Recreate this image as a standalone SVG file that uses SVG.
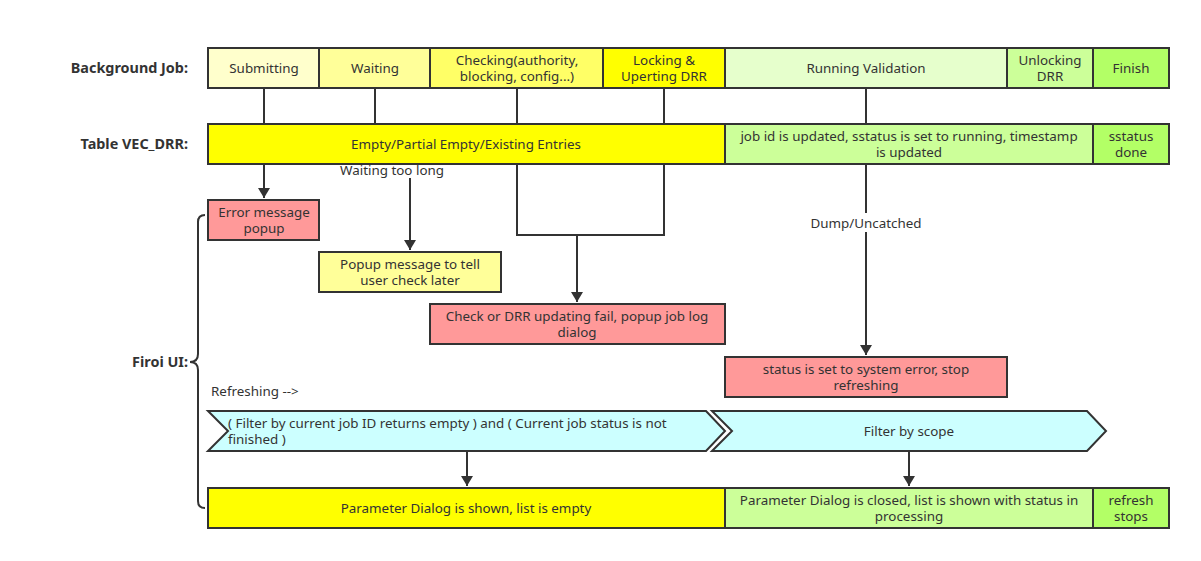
<svg xmlns="http://www.w3.org/2000/svg" width="1201" height="561" viewBox="0 0 1201 561">
<defs>
<marker id="arr" viewBox="0 0 10 12" refX="10" refY="6" markerWidth="10" markerHeight="12" markerUnits="userSpaceOnUse" orient="auto">
<path d="M0,0 L10,6 L0,12 Z" fill="#333"/>
</marker>
<style>
text{font-family:"Noto Sans","Open Sans","Liberation Sans",sans-serif;font-size:13.4px;fill:#333}
.c{text-anchor:middle}
.lbl{font-weight:bold;text-anchor:end;font-size:14.4px}
.box{stroke:#333;stroke-width:2}
.ln{stroke:#333;stroke-width:2;fill:none}
</style>
</defs>
<rect width="1201" height="561" fill="#fff"/>
<g id="labels">
<text class="lbl" x="188" y="73">Background Job:</text>
<text class="lbl" x="188" y="149">Table VEC_DRR:</text>
<text class="lbl" x="188" y="367">Firoi UI:</text>
<text x="211" y="396">Refreshing --&gt;</text>
</g>
<g id="connectors">
<line class="ln" x1="264" y1="88" x2="264" y2="124"/>
<line class="ln" x1="375" y1="88" x2="375" y2="124"/>
<line class="ln" x1="517" y1="88" x2="517" y2="124"/>
<line class="ln" x1="664" y1="88" x2="664" y2="124"/>
<line class="ln" x1="866" y1="88" x2="866" y2="124"/>
<line class="ln" x1="264" y1="164" x2="264" y2="198" marker-end="url(#arr)"/>
<line class="ln" x1="410" y1="178" x2="410" y2="250" marker-end="url(#arr)"/>
<path class="ln" d="M517,164 V235 H664 V164"/>
<line class="ln" x1="577" y1="235" x2="577" y2="302" marker-end="url(#arr)"/>
<line class="ln" x1="866" y1="164" x2="866" y2="355" marker-end="url(#arr)"/>
<line class="ln" x1="467" y1="451" x2="467" y2="486" marker-end="url(#arr)"/>
<line class="ln" x1="909" y1="451" x2="909" y2="486" marker-end="url(#arr)"/>
<path class="ln" d="M205,215 Q198,215 198,222 L198,354 Q198,362 190,362 Q198,362 198,370 L198,501 Q198,508 205,508"/>
<rect x="806" y="213" width="120" height="19" fill="#fff"/>
<text class="c" x="866" y="228">Dump/Uncatched</text>
<text class="c" x="392" y="175">Waiting too long</text>
</g>
<g id="bg-job">
<rect class="box" x="208" y="48" width="111" height="40" fill="#ffffcc"/>
<text class="c" x="264" y="73">Submitting</text>
<rect class="box" x="319" y="48" width="111" height="40" fill="#ffff99"/>
<text class="c" x="375" y="73">Waiting</text>
<rect class="box" x="430" y="48" width="173" height="40" fill="#ffff66"/>
<text class="c" x="517" y="65">Checking(authority,</text>
<text class="c" x="517" y="81">blocking, config...)</text>
<rect class="box" x="603" y="48" width="122" height="40" fill="#ffff00"/>
<text class="c" x="664" y="65">Locking &amp;</text>
<text class="c" x="664" y="81">Uperting DRR</text>
<rect class="box" x="725" y="48" width="282" height="40" fill="#e6ffcc"/>
<text class="c" x="866" y="73">Running Validation</text>
<rect class="box" x="1007" y="48" width="86" height="40" fill="#ccff99"/>
<text class="c" x="1050" y="65">Unlocking</text>
<text class="c" x="1050" y="81">DRR</text>
<rect class="box" x="1093" y="48" width="76" height="40" fill="#b3ff66"/>
<text class="c" x="1131" y="73">Finish</text>
</g>
<g id="table-vec">
<rect class="box" x="208" y="124" width="517" height="40" fill="#ffff00"/>
<text class="c" x="466" y="149">Empty/Partial Empty/Existing Entries</text>
<rect class="box" x="725" y="124" width="368" height="40" fill="#ccff99"/>
<text class="c" x="909" y="141">job id is updated, sstatus is set to running, timestamp</text>
<text class="c" x="909" y="157">is updated</text>
<rect class="box" x="1093" y="124" width="76" height="40" fill="#b3ff66"/>
<text class="c" x="1131" y="141">sstatus</text>
<text class="c" x="1131" y="157">done</text>
</g>
<g id="error-popup">
<rect class="box" x="208" y="200" width="111" height="40" fill="#ff9999"/>
<text class="c" x="264" y="217">Error message</text>
<text class="c" x="264" y="233">popup</text>
</g>
<g id="popup-later">
<rect class="box" x="319" y="252" width="182" height="40" fill="#ffff99"/>
<text class="c" x="410" y="269">Popup message to tell</text>
<text class="c" x="410" y="285">user check later</text>
</g>
<g id="check-fail">
<rect class="box" x="430" y="304" width="295" height="40" fill="#ff9999"/>
<text class="c" x="577" y="321">Check or DRR updating fail, popup job log</text>
<text class="c" x="577" y="337">dialog</text>
</g>
<g id="system-error">
<rect class="box" x="725" y="357" width="282" height="40" fill="#ff9999"/>
<text class="c" x="866" y="374">status is set to system error, stop</text>
<text class="c" x="866" y="390">refreshing</text>
</g>
<g id="filter-job">
<path class="box" d="M208,411 H706 L725,431 L706,451 H208 L228,431 Z" fill="#ccffff"/>
<text x="228" y="428">( Filter by current job ID returns empty ) and ( Current job status is not</text>
<text x="228" y="444">finished )</text>
</g>
<g id="filter-scope">
<path class="box" d="M712,411 H1087 L1106,431 L1087,451 H712 L732,431 Z" fill="#ccffff"/>
<text class="c" x="909" y="436">Filter by scope</text>
</g>
<g id="dialog-row">
<rect class="box" x="208" y="488" width="517" height="40" fill="#ffff00"/>
<text class="c" x="466" y="513">Parameter Dialog is shown, list is empty</text>
<rect class="box" x="725" y="488" width="368" height="40" fill="#ccff99"/>
<text class="c" x="909" y="505">Parameter Dialog is closed, list is shown with status in</text>
<text class="c" x="909" y="521">processing</text>
<rect class="box" x="1093" y="488" width="76" height="40" fill="#b3ff66"/>
<text class="c" x="1131" y="505">refresh</text>
<text class="c" x="1131" y="521">stops</text>
</g>
</svg>
